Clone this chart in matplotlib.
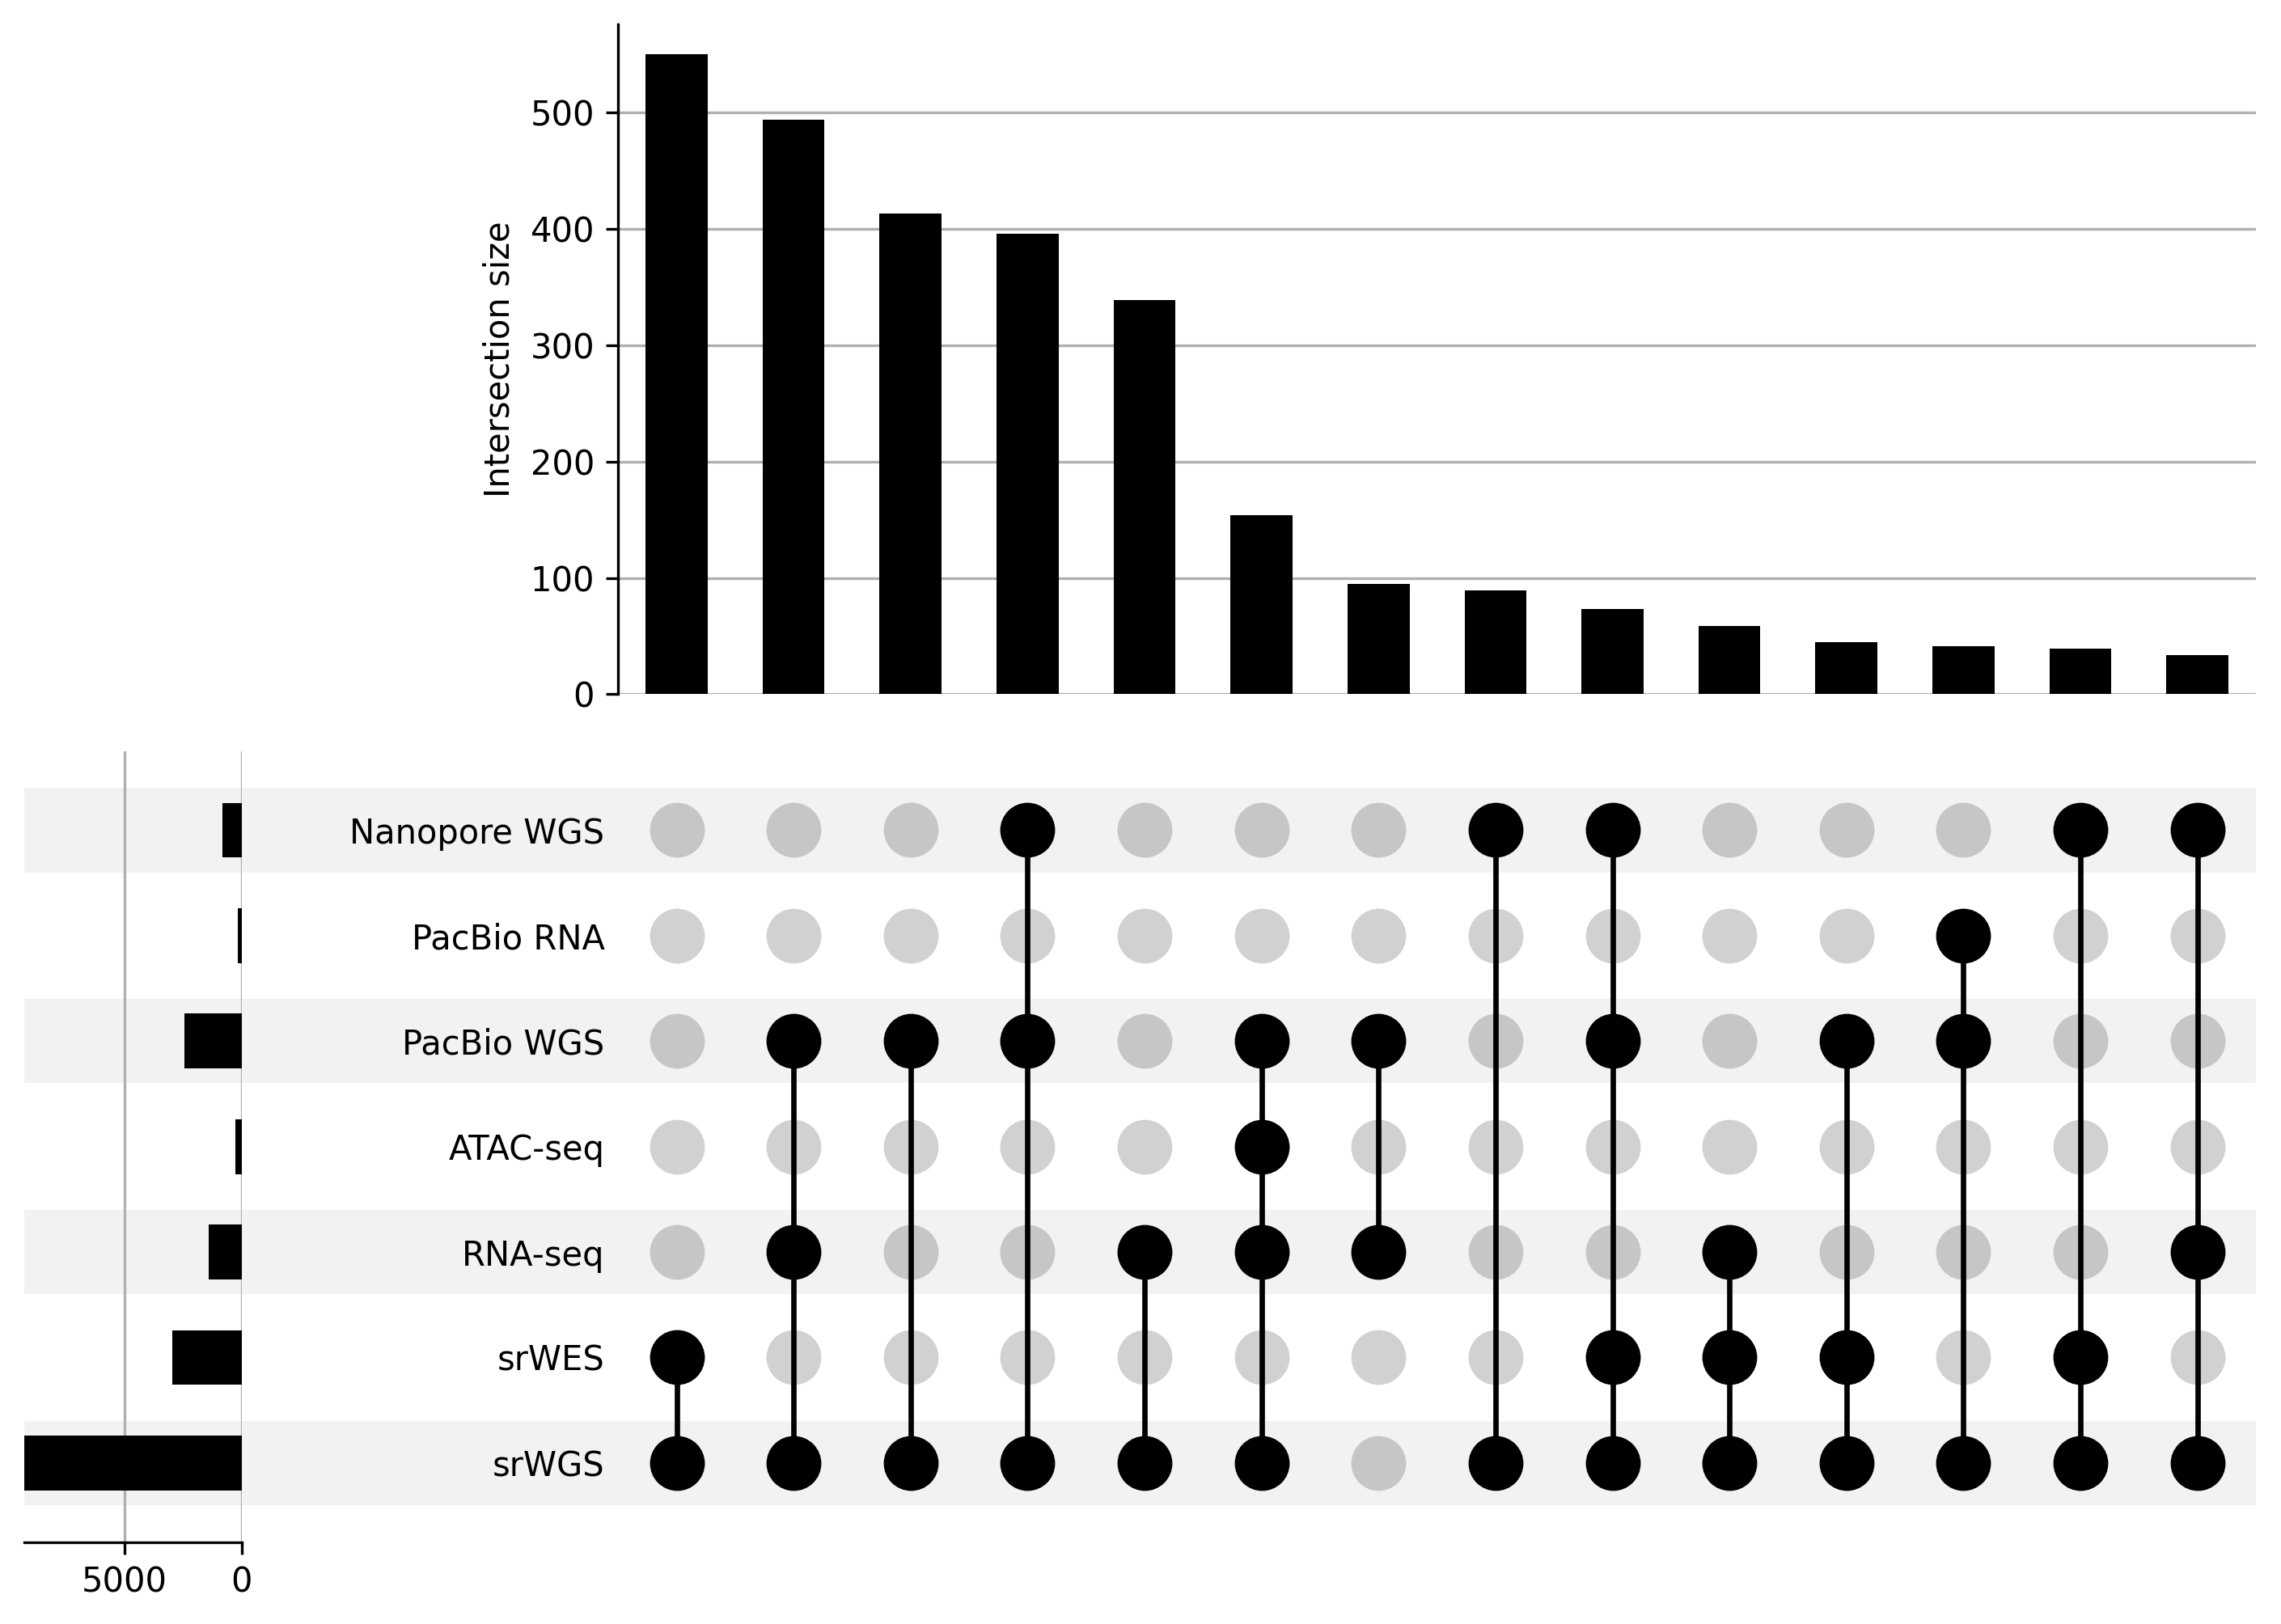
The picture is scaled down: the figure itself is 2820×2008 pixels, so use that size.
import matplotlib
matplotlib.use("Agg")
import matplotlib.pyplot as plt
import matplotlib.transforms as mtransforms
from matplotlib.patches import Rectangle
import numpy as np

# ---- data ----
sets = ["srWGS", "srWES", "RNA-seq", "ATAC-seq", "PacBio WGS", "PacBio RNA", "Nanopore WGS"]  # bottom -> top
set_totals = [9250, 2950, 1420, 265, 2460, 160, 810]
intersection_sizes = [550, 494, 413, 396, 339, 154, 95, 89, 73, 59, 45, 41, 39, 34]
memberships = [
    ["srWES", "srWGS"],
    ["PacBio WGS", "RNA-seq", "srWGS"],
    ["PacBio WGS", "srWGS"],
    ["Nanopore WGS", "PacBio WGS", "srWGS"],
    ["RNA-seq", "srWGS"],
    ["PacBio WGS", "ATAC-seq", "RNA-seq", "srWGS"],
    ["PacBio WGS", "RNA-seq"],
    ["Nanopore WGS", "srWGS"],
    ["Nanopore WGS", "PacBio WGS", "srWES", "srWGS"],
    ["RNA-seq", "srWES", "srWGS"],
    ["PacBio WGS", "srWES", "srWGS"],
    ["PacBio RNA", "PacBio WGS", "srWGS"],
    ["Nanopore WGS", "srWES", "srWGS"],
    ["Nanopore WGS", "RNA-seq", "srWGS"],
]
total_ticks = [5000, 0]
bar_ticks = [0, 100, 200, 300, 400, 500]

plt.rcParams["font.family"] = ["DejaVu Sans"]
plt.rcParams["font.size"] = 10

fig = plt.figure(figsize=(9.4, 6.6934), dpi=300)

L, R = 0.271, 0.989
ax_bar = fig.add_axes([L, 0.5725, R - L, 0.985 - 0.5725])
MB, MT = 0.0505, 0.5375
ax_mat = fig.add_axes([L, MB, R - L, MT - MB])
ax_tot = fig.add_axes([0.0108, MB, 0.106 - 0.0108, MT - MB])
for a in (ax_bar, ax_mat, ax_tot):
    a.set_facecolor("none")

n = len(intersection_sizes)
xs = np.arange(n)
nsets = len(sets)

# ---- intersection bars ----
ax_bar.bar(xs, intersection_sizes, width=0.53, color="black", zorder=3)
ax_bar.set_xlim(-0.5, n - 0.5)
ax_bar.set_ylim(0, max(intersection_sizes) * 1.047)
ax_bar.set_yticks(bar_ticks)
ax_bar.set_xticks([])
ax_bar.grid(axis="y", color="#b0b0b0", linewidth=0.8, zorder=0)
for s in ("top", "right", "bottom"):
    ax_bar.spines[s].set_visible(False)
ax_bar.set_ylabel("Intersection size")

# ---- shading across totals + labels + matrix ----
blend = mtransforms.blended_transform_factory(fig.transFigure, ax_mat.transData)
for i in range(0, nsets, 2):
    fig.patches.append(Rectangle((0.0108, i - 0.4), R - 0.0108, 0.8, transform=blend,
                                 facecolor="#f2f2f2", edgecolor="none", zorder=-1))

# ---- matrix ----
ax_mat.set_xlim(-0.5, n - 0.5)
ax_mat.set_ylim(-0.75, nsets - 0.25)
for j, mem in enumerate(memberships):
    active = [sets.index(m) for m in mem]
    inactive = [k for k in range(nsets) if k not in active]
    ax_mat.scatter([j] * len(inactive), inactive, s=265, color="black", alpha=0.18,
                   linewidths=0, zorder=2)
    ax_mat.scatter([j] * len(active), active, s=265, color="black", linewidths=0, zorder=3)
    if len(active) > 1:
        ax_mat.vlines(j, min(active), max(active), color="black", linewidth=1.6, zorder=2)
ax_mat.set_xticks([])
ax_mat.set_yticks(range(nsets))
ax_mat.set_yticklabels(sets)
ax_mat.tick_params(axis="y", length=0, pad=4)
for s in ax_mat.spines.values():
    s.set_visible(False)

# ---- set totals ----
ax_tot.barh(range(nsets), set_totals, height=0.52, color="black", zorder=3)
ax_tot.set_xlim(max(set_totals), 0)
ax_tot.set_ylim(-0.75, nsets - 0.25)
ax_tot.set_xticks(total_ticks)
ax_tot.set_yticks([])
ax_tot.grid(axis="x", color="#b0b0b0", linewidth=0.8, zorder=0)
for s in ("top", "right", "left"):
    ax_tot.spines[s].set_visible(False)

fig.savefig("out.png", dpi=300)
